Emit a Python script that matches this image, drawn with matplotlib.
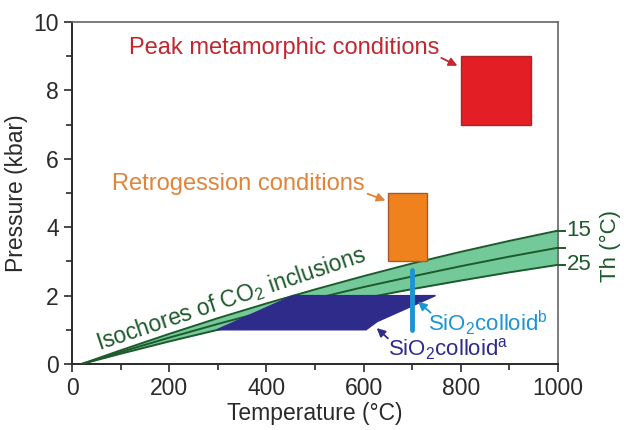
import matplotlib
matplotlib.use("Agg")
import matplotlib.pyplot as plt
from matplotlib.patches import Polygon, Rectangle

plt.rcParams['font.family'] = ['Liberation Sans', 'DejaVu Sans']
plt.rcParams['mathtext.fontset'] = 'custom'
plt.rcParams['mathtext.rm'] = 'Liberation Sans'
plt.rcParams['mathtext.it'] = 'Liberation Sans'
plt.rcParams['mathtext.default'] = 'regular'

# isochores of CO2 inclusions (Th = 15, middle, 25 degC)
iso_T = [20, 100, 200, 300, 400, 500, 600, 700, 800, 900, 1000]
iso_15 = [0, 0.40, 0.88, 1.34, 1.77, 2.18, 2.57, 2.94, 3.28, 3.60, 3.90]
iso_mid = [0, 0.35, 0.77, 1.17, 1.55, 1.91, 2.25, 2.56, 2.86, 3.14, 3.40]
iso_25 = [0, 0.30, 0.66, 1.00, 1.32, 1.63, 1.92, 2.19, 2.44, 2.68, 2.90]

# P-T fields
peak_T = [800, 945]
peak_P = [7, 9]
retro_T = [650, 730]
retro_P = [3, 5]
colloid_a_T = [298, 455, 748, 628, 605]
colloid_a_P = [1.0, 2.0, 2.0, 1.24, 1.0]
colloid_b_T = [700, 700]
colloid_b_P = [1.0, 2.75]

GREEN_LINE = '#1d5a2c'
GREEN_FILL = '#74c99b'
NAVY = '#2e2b8a'
CYAN = '#1b95d2'
DARK = '#2a2a2a'

fig = plt.figure(figsize=(6.24, 4.30), dpi=100)
ax = fig.add_axes([0.1154, 0.1535, 0.7788, 0.7953])

ax.fill_between(iso_T, iso_25, iso_15, color=GREEN_FILL, lw=0, zorder=2)
for ys in (iso_15, iso_mid, iso_25):
    ax.plot(iso_T, ys, color=GREEN_LINE, lw=1.4, zorder=3)
    ax.plot([iso_T[-1], iso_T[-1] + 14], [ys[-1], ys[-1]], color=GREEN_LINE,
            lw=1.4, clip_on=False, zorder=3)

ax.add_patch(Polygon(list(zip(colloid_a_T, colloid_a_P)), closed=True,
                     facecolor=NAVY, edgecolor=NAVY, zorder=4))
ax.plot(colloid_b_T, colloid_b_P, color=CYAN, lw=3.5, solid_capstyle='round', zorder=5)

ax.add_patch(Rectangle((peak_T[0], peak_P[0]), peak_T[1] - peak_T[0], peak_P[1] - peak_P[0],
                       facecolor='#e31e24', edgecolor='#a4272c', lw=1, zorder=4))
ax.add_patch(Rectangle((retro_T[0], retro_P[0]), retro_T[1] - retro_T[0], retro_P[1] - retro_P[0],
                       facecolor='#f0821e', edgecolor='#a8572e', lw=1, zorder=4))


def label_arrow(text, xy_text, xy_head, xy_tail, color, size, ha):
    ax.text(xy_text[0], xy_text[1], text, color=color, fontsize=size, ha=ha, va='center', zorder=6)
    ax.annotate('', xy=xy_head, xytext=xy_tail,
                arrowprops=dict(arrowstyle='-|>,head_length=0.5,head_width=0.25', color=color,
                                lw=1.3, shrinkA=0, shrinkB=0), zorder=6)


label_arrow('Peak metamorphic conditions', (755, 9.25), (793, 8.72), (760, 8.95),
            '#c1272d', 17, 'right')
label_arrow('Retrogession conditions', (603, 5.25), (645, 4.78), (608, 4.98),
            '#e0843a', 17, 'right')
label_arrow('SiO$_2$colloid$^b$', (733, 1.2), (712, 1.82), (738, 1.5),
            CYAN, 16, 'left')
label_arrow('SiO$_2$colloid$^a$', (651, 0.43), (627, 1.05), (650, 0.75),
            NAVY, 16, 'left')

ax.text(327, 1.9, 'Isochores of CO$_2$ inclusions', color=GREEN_LINE, fontsize=16.5,
        rotation=18.5, rotation_mode='anchor', ha='center', va='center', zorder=6)

ax.text(1018, iso_15[-1], '15', color=GREEN_LINE, fontsize=16, va='center', ha='left',
        clip_on=False)
ax.text(1018, iso_25[-1], '25', color=GREEN_LINE, fontsize=16, va='center', ha='left',
        clip_on=False)
ax.text(1108, 3.45, 'Th (°C)', color=GREEN_LINE, fontsize=16, rotation=90,
        va='center', ha='center', clip_on=False)

ax.set_xlim(0, 1000)
ax.set_ylim(0, 10)
ax.set_xticks(range(0, 1001, 200))
ax.set_xticks(range(0, 1001, 100), minor=True)
ax.set_yticks(range(0, 11, 2))
ax.set_yticks(range(0, 11, 1), minor=True)
ax.tick_params(which='both', direction='out', labelsize=16.5, width=1.2, colors=DARK,
               labelcolor=DARK)
ax.tick_params(which='major', length=6)
ax.tick_params(which='minor', length=4)
ax.set_xlabel('Temperature (°C)', fontsize=16.5, color=DARK, labelpad=1)
ax.set_ylabel('Pressure (kbar)', fontsize=16.5, color=DARK, labelpad=4)

for side in ('left', 'bottom'):
    ax.spines[side].set_color(DARK)
    ax.spines[side].set_linewidth(1.4)
for side in ('top', 'right'):
    ax.spines[side].set_color('#666666')
    ax.spines[side].set_linewidth(1.2)

fig.savefig('out.png', dpi=100)
